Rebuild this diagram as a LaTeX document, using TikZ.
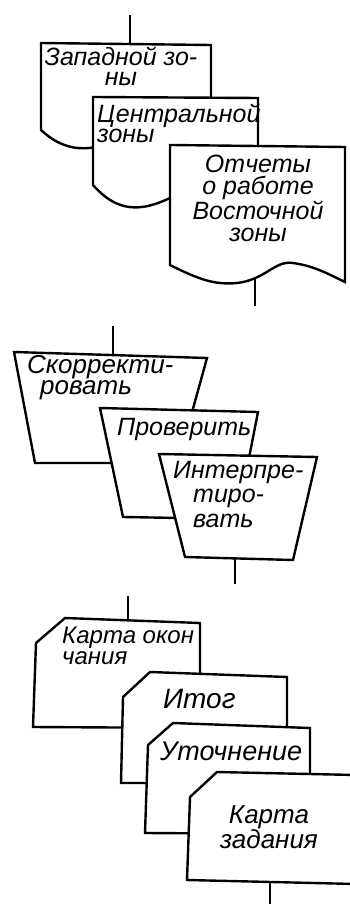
\documentclass[tikz,border=0pt]{standalone}
\usepackage{fontspec}
\setmainfont{Liberation Sans}
\begin{document}
\begin{tikzpicture}[x=1pt,y=-1pt,
  shp/.style={draw=black, line width=2.4pt, fill=white, line join=miter},
  conn/.style={draw=black, line width=1.8pt},
  lbl/.style={font=\fontsize{24}{20}\selectfont\itshape, inner sep=0pt, align=left, anchor=base west}]
\useasboundingbox (0,0) rectangle (350,904);

% ---------- group 1: documents ----------
\coordinate (g1in) at (130,15);
\coordinate (docAtop) at (130,44);
\coordinate (docCbot) at (255,279);
\coordinate (g1out) at (255,306);
\draw[shp] (41,43) -- (211,45) -- (211,130) .. controls (150,95) and (100,185) .. (41,130) -- cycle;
\draw[shp] (93,97) -- (258,98) -- (258,180) .. controls (200,150) and (150,250) .. (93,185) -- cycle;
\draw[shp] (170,145) -- (345,147) -- (345,282)
  .. controls (330,275) and (315,266) .. (293,263)
  .. controls (275,260) and (265,280) .. (237,283)
  .. controls (215,285) and (200,280) .. (170,265) -- cycle;
\draw[conn] (g1in) -- (docAtop);
\draw[conn] (docCbot) -- (g1out);
\node[lbl, align=center, anchor=base, font=\fontsize{25}{20}\selectfont\itshape] (tA1) at (121,86) {Западной зо-\\ны};
\node[lbl, font=\fontsize{25}{20}\selectfont\itshape] (tB1) at (97,143) {Центральной\\зоны};
\node[lbl, align=center, anchor=base, font=\fontsize{25}{22}\selectfont\itshape] (tC1) at (258,241) {Отчеты\\о работе\\Восточной\\зоны};

% ---------- group 2: manual operations ----------
\coordinate (g2in) at (113,326);
\coordinate (trAtop) at (113,354);
\coordinate (trCbot) at (235,559);
\coordinate (g2out) at (235,584);
\draw[shp] (14,352) -- (207,358) -- (178,463) -- (35,463) -- cycle;
\draw[shp] (100,408) -- (258,412) -- (237,519) -- (123,517) -- cycle;
\draw[shp] (159,454) -- (317,457) -- (293,560) -- (185,557) -- cycle;
\draw[conn] (g2in) -- (trAtop);
\draw[conn] (trCbot) -- (g2out);
\node[lbl, font=\fontsize{26}{21}\selectfont\itshape] (tA2) at (27,394) {Скорректи-\\\hspace*{13pt}ровать};
\node[lbl, font=\fontsize{25}{20}\selectfont\itshape] (tB2) at (117,435) {Проверить};
\node[lbl, font=\fontsize{25}{24.5}\selectfont\itshape] (tC2) at (173,527) {Интерпре-\\\hspace*{20pt}тиро-\\\hspace*{20pt}вать};

% ---------- group 3: punched cards ----------
\coordinate (g3in) at (128,596);
\coordinate (cdAtop) at (128,621);
\coordinate (cdDbot) at (270,883);
\coordinate (g3out) at (270,906);
\draw[shp] (65,618) -- (200,623) -- (200,728) -- (33,727) -- (36,643) -- cycle;
\draw[shp] (150,672) -- (287,677) -- (287,783) -- (121,783) -- (123,697) -- cycle;
\draw[shp] (173,723) -- (310,728) -- (310,834) -- (145,833) -- (148,745) -- cycle;
\draw[shp] (217,772) -- (356,775) -- (356,884) -- (187,880) -- (190,797) -- cycle;
\draw[conn] (g3in) -- (cdAtop);
\draw[conn] (cdDbot) -- (g3out);
\node[lbl, font=\fontsize{24}{21}\selectfont\itshape] (tA3) at (62,664) {Карта окон\\чания};
\node[lbl, font=\fontsize{28}{20}\selectfont\itshape] (tB3) at (163,708) {Итог};
\node[lbl, font=\fontsize{27}{20}\selectfont\itshape] (tC3) at (160,760) {Уточнение};
\node[lbl, align=center, anchor=base, font=\fontsize{26}{25}\selectfont\itshape] (tD3) at (269,848) {Карта\\задания};
\end{tikzpicture}
\end{document}
